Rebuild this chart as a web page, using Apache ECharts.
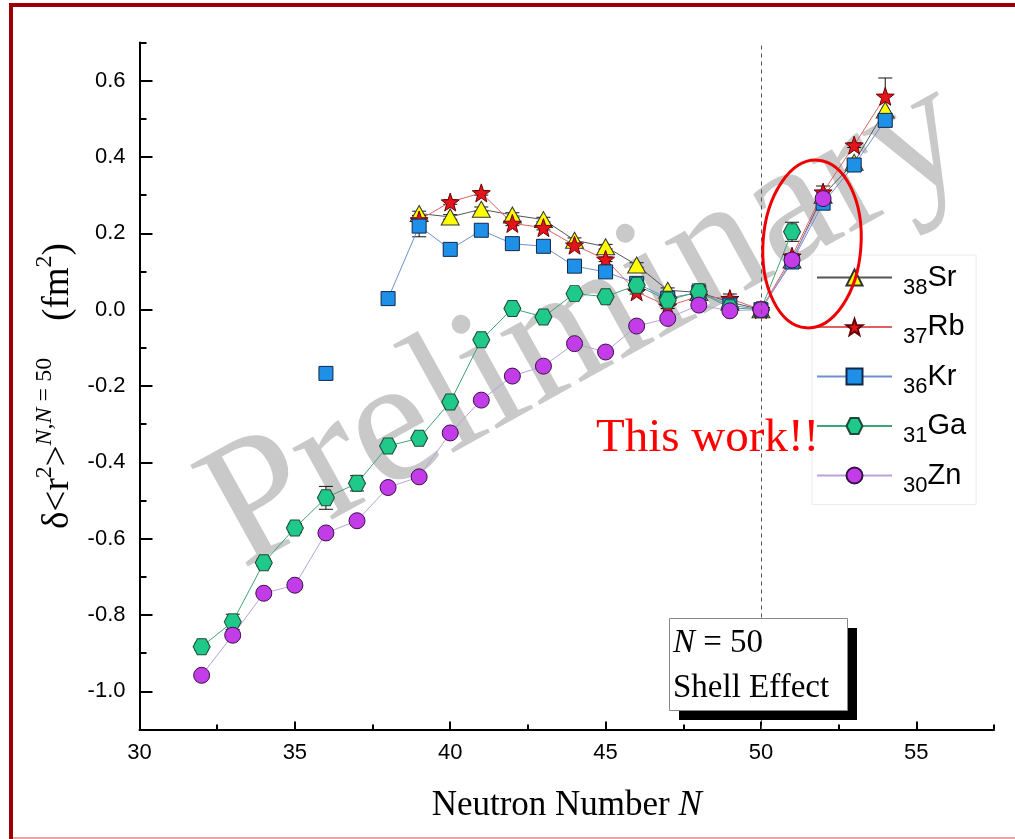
<!DOCTYPE html>
<html>
<head>
<meta charset="utf-8">
<script src="https://cdn.jsdelivr.net/npm/echarts@6/dist/echarts.min.js"></script>
<style>
  html, body { margin: 0; padding: 0; background: #fff; }
  #chart { width: 1015px; height: 839px; }
</style>
</head>
<body>
<div id="chart"></div>
<script>
// Neutron numbers and δ<r²> values (fm²) relative to N = 50, one set per element.
const srN   = [39, 40, 41, 42, 43, 44, 45, 46, 47, 48, 49, 50, 51, 52, 53, 54];
const srVal = [0.252, 0.243, 0.263, 0.248, 0.236, 0.182, 0.165, 0.117, 0.051, 0.045, 0.020, 0, 0.130, 0.300, 0.386, 0.523];
const srErr = [0.006, 0.006, 0.006, 0.006, 0.006, 0.006, 0.006, 0.006, 0.006, 0.006, 0.006, 0.004, 0.006, 0.006, 0.006, 0.040];

const rbN   = [39, 40, 41, 42, 43, 44, 45, 46, 47, 48, 49, 50, 51, 52, 53, 54];
const rbVal = [0.235, 0.282, 0.306, 0.226, 0.215, 0.169, 0.132, 0.047, 0.009, 0.035, 0.029, 0, 0.140, 0.308, 0.431, 0.559];
const rbErr = [0.006, 0.006, 0.006, 0.006, 0.006, 0.006, 0.006, 0.006, 0.006, 0.006, 0.012, 0.004, 0.006, 0.016, 0.006, 0.048];

const krN   = [36, 37, 38, 39, 40, 41, 42, 43, 44, 45, 46, 47, 48, 49, 50, 51, 52, 53, 54];
const krVal = [-0.167, null, 0.029, 0.219, 0.158, 0.208, 0.173, 0.166, 0.114, 0.099, 0.069, 0.030, 0.045, 0.012, 0, 0.125, 0.279, 0.379, 0.496];
const krErr = [0, 0, 0.006, 0.028, 0.006, 0.006, 0.006, 0.006, 0.006, 0.006, 0.006, 0.006, 0.006, 0.006, 0.004, 0.006, 0.006, 0.006, 0.006];

const gaN   = [32, 33, 34, 35, 36, 37, 38, 39, 40, 41, 42, 43, 44, 45, 46, 47, 48, 49, 50, 51];
const gaVal = [-0.883, -0.818, -0.663, -0.572, -0.493, -0.455, -0.357, -0.337, -0.242, -0.079, 0.003, -0.019, 0.042, 0.034, 0.064, 0.025, 0.047, 0.005, 0, 0.204];
const gaErr = [0.010, 0.020, 0.010, 0.012, 0.030, 0.020, 0.008, 0.008, 0.008, 0.008, 0.008, 0.008, 0.008, 0.008, 0.008, 0.008, 0.020, 0.008, 0.004, 0.025];

const znN   = [32, 33, 34, 35, 36, 37, 38, 39, 40, 41, 42, 43, 44, 45, 46, 47, 48, 49, 50, 51, 52];
const znVal = [-0.958, -0.853, -0.743, -0.722, -0.585, -0.553, -0.466, -0.438, -0.323, -0.237, -0.174, -0.148, -0.089, -0.111, -0.043, -0.023, 0.012, -0.003, 0, 0.130, 0.291];
const znErr = [0.008, 0.008, 0.008, 0.008, 0.008, 0.008, 0.008, 0.008, 0.008, 0.008, 0.008, 0.008, 0.008, 0.008, 0.008, 0.008, 0.008, 0.008, 0.004, 0.008, 0.008];

// Element names, proton numbers (drawn as subscripts in the legend)
const elements = ['Sr', 'Rb', 'Kr', 'Ga', 'Zn'];
const protonZ  = { Sr: 38, Rb: 37, Kr: 36, Ga: 31, Zn: 30 };

// Axis ticks and labels
const xMajor = [30, 35, 40, 45, 50, 55];
const xMinor = [32.5, 37.5, 42.5, 47.5, 52.5, 57.5];
const yMajor = [-1.0, -0.8, -0.6, -0.4, -0.2, 0.0, 0.2, 0.4, 0.6];
const yMinor = [-1.1, -0.9, -0.7, -0.5, -0.3, -0.1, 0.1, 0.3, 0.5, 0.7];
const shellN = 50;

const SANS = 'Liberation Sans';
const SERIF = 'Liberation Serif';

const STAR = 'path://M0,-10L2.351,-3.236L9.511,-3.090L3.804,1.236L5.878,8.090L0,4.2L-5.878,8.090L-3.804,1.236L-9.511,-3.090L-2.351,-3.236Z';
const HEX = 'path://M-10,0L-5,-8.66L5,-8.66L10,0L5,8.66L-5,8.66Z';

function pairs(ns, vs) {
  return ns.map((n, i) => [n, vs[i] === null ? '-' : vs[i]]);
}
function errTriples(ns, vs, es) {
  const out = [];
  ns.forEach((n, i) => { if (vs[i] !== null && es[i] > 0) out.push([n, vs[i], es[i]]); });
  return out;
}

// vertical error bar with caps
function renderErr(params, api) {
  const x = api.value(0), y = api.value(1), e = api.value(2);
  const top = api.coord([x, y + e]);
  const bot = api.coord([x, y - e]);
  const hw = 7;
  const st = { stroke: '#111', lineWidth: 1 };
  return {
    type: 'group',
    children: [
      { type: 'line', shape: { x1: top[0], y1: top[1], x2: bot[0], y2: bot[1] }, style: st },
      { type: 'line', shape: { x1: top[0] - hw, y1: top[1], x2: top[0] + hw, y2: top[1] }, style: st },
      { type: 'line', shape: { x1: bot[0] - hw, y1: bot[1], x2: bot[0] + hw, y2: bot[1] }, style: st }
    ]
  };
}

function lineSeries(name, ns, vs, symbol, size, fill, border, lineColor) {
  return {
    name: name,
    type: 'line',
    data: pairs(ns, vs),
    symbol: symbol,
    symbolSize: size,
    showAllSymbol: true,
    connectNulls: false,
    lineStyle: { color: lineColor, width: 1 },
    itemStyle: { color: fill, borderColor: border, borderWidth: 1 },
    emphasis: { disabled: true },
    animation: false
  };
}
function errSeries(ns, vs, es) {
  return {
    type: 'custom',
    renderItem: renderErr,
    data: errTriples(ns, vs, es),
    encode: { x: 0, y: 1 },
    silent: true,
    animation: false
  };
}

const chart = echarts.init(document.getElementById('chart'), null, { renderer: 'canvas' });

const srSeries = lineSeries('Sr', srN, srVal, 'triangle', [18, 16], '#ffff00', '#333', '#555555');
srSeries.markLine = {
  silent: true,
  symbol: 'none',
  label: { show: false },
  lineStyle: { type: [4, 4], color: '#555', width: 1 },
  data: [{ xAxis: shellN }],
  animation: false
};

const option = {
  backgroundColor: '#ffffff',
  animation: false,
  grid: { left: 139.5, right: 21, top: 42.5, bottom: 109.5, containLabel: false },
  legend: {
    data: elements,
    orient: 'vertical',
    left: 812,
    top: 255,
    padding: [8, 10, 8, 4],
    itemWidth: 75,
    itemHeight: 20,
    itemGap: 14,
    backgroundColor: '#ffffff',
    borderColor: '#ececec',
    borderWidth: 1,
    selectedMode: false,
    formatter: name => '{sub|' + protonZ[name] + '}{el|' + name + '}',
    textStyle: {
      color: '#000',
      rich: {
        sub: { fontFamily: SANS, fontSize: 22, lineHeight: 22, verticalAlign: 'bottom', padding: [0, 0, 0, 6], color: '#000' },
        el: { fontFamily: SANS, fontSize: 29, lineHeight: 42, verticalAlign: 'middle', color: '#000' }
      }
    }
  },
  xAxis: [
    {
      type: 'value', min: 30, max: 57.5, position: 'bottom',
      axisLine: { show: true, onZero: false, lineStyle: { color: '#000', width: 2 } },
      axisTick: { show: true, inside: true, length: 8, customValues: xMajor, lineStyle: { color: '#000', width: 2 } },
      axisLabel: { show: true, customValues: xMajor, fontFamily: SANS, fontSize: 22, color: '#000', margin: 12 },
      splitLine: { show: false },
      name: '{t|Neutron Number }{ti|N}',
      nameLocation: 'middle',
      nameGap: 59,
      nameTextStyle: {
        rich: {
          t: { fontFamily: SERIF, fontSize: 35, color: '#000' },
          ti: { fontFamily: SERIF, fontSize: 35, fontStyle: 'italic', color: '#000' }
        }
      }
    },
    {
      type: 'value', min: 30, max: 57.5, position: 'bottom',
      axisLine: { show: false, onZero: false },
      axisTick: { show: true, inside: true, length: 5, customValues: xMinor, lineStyle: { color: '#000', width: 2 } },
      axisLabel: { show: false },
      splitLine: { show: false }
    }
  ],
  yAxis: [
    {
      type: 'value', min: -1.1, max: 0.7, position: 'left',
      axisLine: { show: true, onZero: false, lineStyle: { color: '#000', width: 2 } },
      axisTick: { show: true, inside: true, length: 13, customValues: yMajor, lineStyle: { color: '#000', width: 2 } },
      axisLabel: {
        show: true, customValues: yMajor, fontFamily: SANS, fontSize: 22, color: '#000', margin: 14,
        formatter: v => Number(v).toFixed(1)
      },
      splitLine: { show: false },
      name: '{t|δ<r}{s|2}{t|>}{si|N}{s|,}{si|N}{s| = 50}{t|    (fm}{s|2}{t|)}',
      nameLocation: 'middle',
      nameRotate: 90,
      nameGap: 54,
      nameTextStyle: {
        rich: {
          t: { fontFamily: SERIF, fontSize: 37, lineHeight: 44, verticalAlign: 'bottom', color: '#000' },
          s: { fontFamily: SERIF, fontSize: 24, lineHeight: 24, verticalAlign: 'top', color: '#000' },
          si: { fontFamily: SERIF, fontSize: 24, lineHeight: 24, verticalAlign: 'top', fontStyle: 'italic', color: '#000' }
        }
      }
    },
    {
      type: 'value', min: -1.1, max: 0.7, position: 'left',
      axisLine: { show: false, onZero: false },
      axisTick: { show: true, inside: true, length: 7, customValues: yMinor, lineStyle: { color: '#000', width: 2 } },
      axisLabel: { show: false },
      splitLine: { show: false }
    }
  ],
  series: [
    srSeries,
    errSeries(srN, srVal, srErr),
    lineSeries('Rb', rbN, rbVal, STAR, 18, '#e5141c', '#6a0000', '#e06060'),
    errSeries(rbN, rbVal, rbErr),
    lineSeries('Kr', krN, krVal, 'rect', 14, '#1e90e8', '#10284a', '#6f8fcc'),
    errSeries(krN, krVal, krErr),
    lineSeries('Ga', gaN, gaVal, HEX, [17, 16], '#1fc98a', '#1c4a36', '#3fa576'),
    errSeries(gaN, gaVal, gaErr),
    lineSeries('Zn', znN, znVal, 'circle', 16, '#c23ce8', '#3a1048', '#b9a2da'),
    errSeries(znN, znVal, znErr)
  ],
  graphic: [
    // watermark
    {
      type: 'text', z: -10, x: 587, y: 325,
      rotation: 29 * Math.PI / 180,
      style: {
        text: 'Preliminary', fontFamily: SERIF, fontSize: 178, fill: '#c9c9c9',
        align: 'center', verticalAlign: 'middle'
      },
      silent: true
    },
    // frame
    { type: 'rect', z: 200, shape: { x: 9, y: 3, width: 1006, height: 4 }, style: { fill: '#9b0000' }, silent: true },
    { type: 'rect', z: 200, shape: { x: 9, y: 3, width: 4, height: 836 }, style: { fill: '#9b0000' }, silent: true },
    { type: 'rect', z: 200, shape: { x: 13, y: 837, width: 1002, height: 2 }, style: { fill: '#eaa6a6' }, silent: true },
    // highlight around N = 51, 52
    {
      type: 'ellipse', z: 150, x: 812, y: 244, rotation: -4 * Math.PI / 180,
      shape: { cx: 0, cy: 0, rx: 49, ry: 84 },
      style: { fill: null, stroke: '#ee0000', lineWidth: 3 },
      silent: true
    },
    {
      type: 'text', z: 150, x: 596, y: 439,
      style: { text: 'This work!!', fontFamily: SERIF, fontSize: 47, fill: '#ff0000', align: 'left', verticalAlign: 'middle' },
      silent: true
    },
    // shell-effect note box with drop shadow
    { type: 'rect', z: 150, shape: { x: 679, y: 628, width: 178, height: 92 }, style: { fill: '#000' }, silent: true },
    { type: 'rect', z: 151, shape: { x: 669.5, y: 618.5, width: 178, height: 92 }, style: { fill: '#fff', stroke: '#888', lineWidth: 1 }, silent: true },
    {
      type: 'text', z: 152, x: 673, y: 643,
      style: {
        text: '{i|N}{r| = 50}',
        verticalAlign: 'middle', align: 'left',
        rich: {
          i: { fontFamily: SERIF, fontSize: 33, fontStyle: 'italic', fill: '#000' },
          r: { fontFamily: SERIF, fontSize: 33, fill: '#000' }
        }
      },
      silent: true
    },
    {
      type: 'text', z: 152, x: 673, y: 688,
      style: { text: 'Shell Effect', fontFamily: SERIF, fontSize: 33, fill: '#000', align: 'left', verticalAlign: 'middle' },
      silent: true
    }
  ]
};

chart.setOption(option);
</script>
</body>
</html>
